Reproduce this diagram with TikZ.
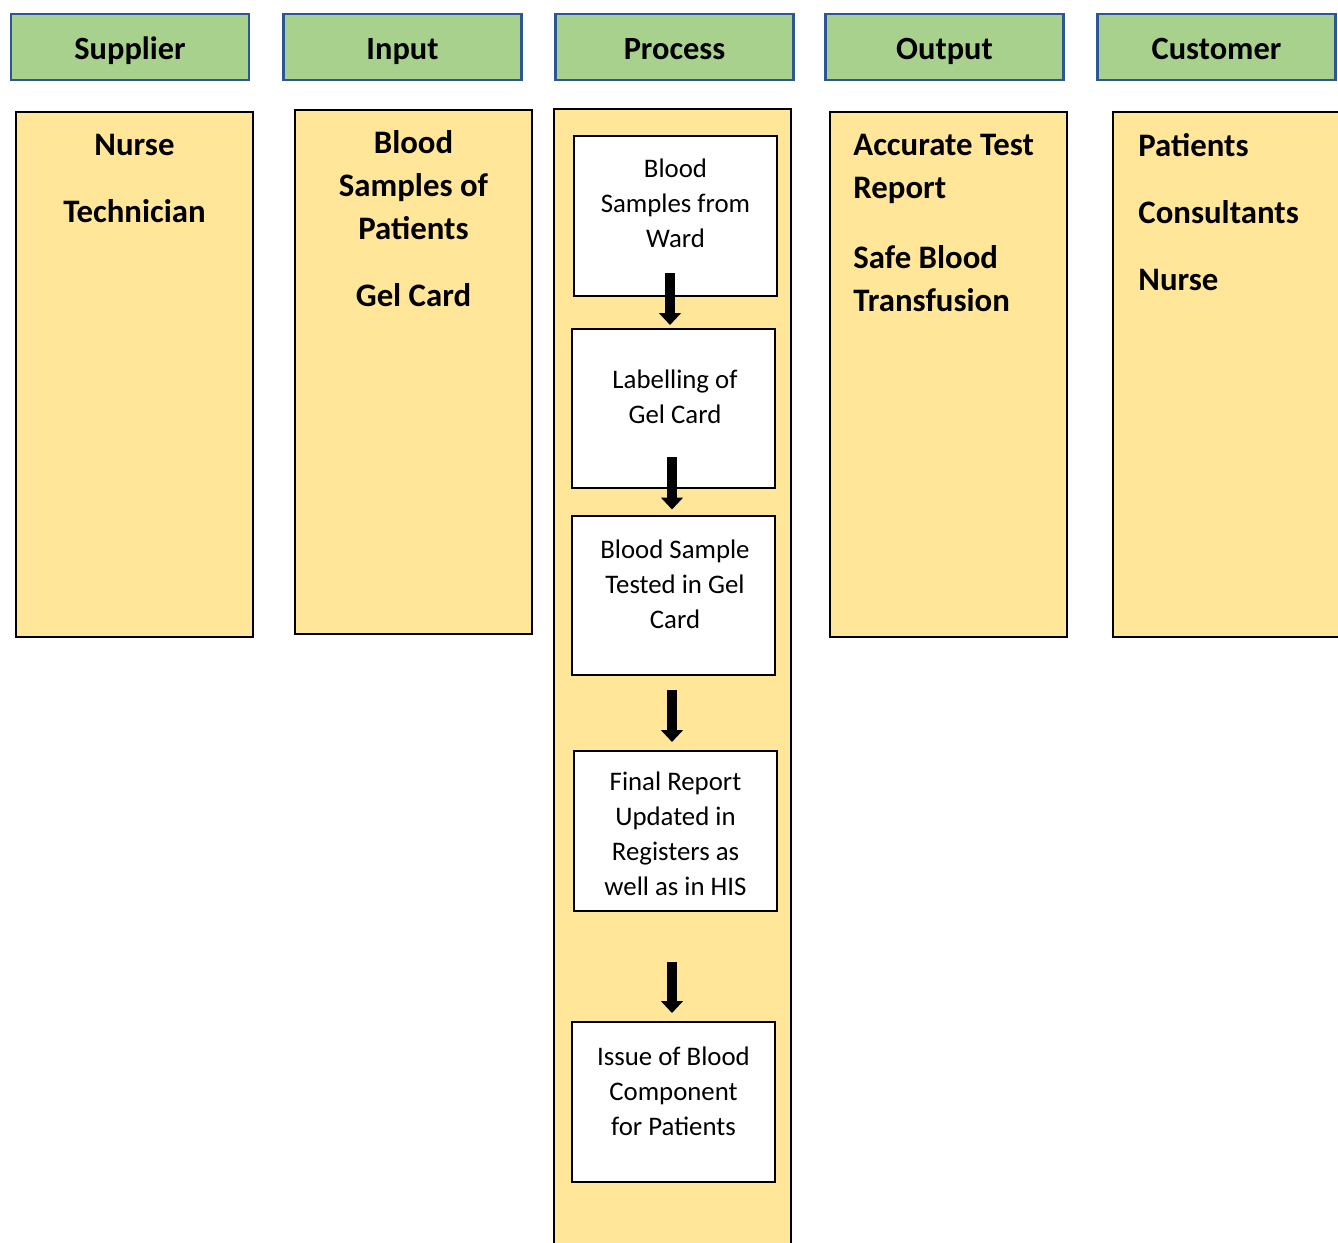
\documentclass[tikz,border=0pt]{standalone}
\usepackage{fontspec}
\setmainfont{Carlito}
\usetikzlibrary{arrows.meta,calc}
\definecolor{hdrgreen}{HTML}{A9D18E}
\definecolor{hdrblue}{HTML}{2F5597}
\definecolor{laneyellow}{HTML}{FFE699}

\begin{document}
\begin{tikzpicture}[x=0.5pt,y=0.5pt,
  header/.style={draw=hdrblue, line width=1.4pt, fill=hdrgreen,
    minimum width=119pt, minimum height=33pt, inner sep=0pt, outer sep=0pt,
    text height=12.4pt, text depth=0pt,
    font=\fontsize{16.2}{20}\selectfont\bfseries},
  lane/.style={draw=black, line width=1.2pt, fill=laneyellow,
    inner sep=0pt, outer sep=0pt, minimum width=118.5pt, minimum height=262.5pt},
  lanetext/.style={inner sep=0pt, font=\fontsize{16.4}{21.5}\selectfont\bfseries},
  stepbox/.style={draw=black, line width=0.7pt, fill=white,
    minimum width=101.5pt, minimum height=80pt, inner sep=0pt, outer sep=0pt},
  steptext/.style={anchor=north, inner sep=0pt, align=center,
    font=\fontsize{13.4}{17.5}\selectfont},
  flow/.style={line width=5.3pt, -{Triangle[width=10.8pt,length=6pt]}}
]
\useasboundingbox (0,0) rectangle (1338,-1242);

% column headers
\node[header] (hsup)  at (130,-47)    {Supplier};
\node[header] (hin)   at (402.5,-47)  {Input};
\node[header] (hproc) at (674.5,-47)  {Process};
\node[header] (hout)  at (944.5,-47)  {Output};
\node[header] (hcus)  at (1216.5,-47) {Customer};

% yellow lanes
\node[lane] (lsup)  at (134.5,-374.5) {};
\node[lane, minimum height=262pt] (lin) at (413.5,-372) {};
\node[lane, minimum height=570.5pt] (lproc) at (672.5,-679.5) {};
\node[lane] (lout)  at (948.5,-374.5) {};
\node[lane, minimum width=116pt] (lcus) at (1229,-374.5) {};

% lane contents
\node[lanetext, anchor=north, align=center] (tsup) at (134.5,-134)
  {Nurse\\[12pt]Technician};
\node[lanetext, anchor=north, align=center] (tin) at (413.5,-130)
  {Blood\\Samples of\\Patients\\[12pt]Gel Card};
\node[lanetext, anchor=north west, align=left] (tout) at (853,-134)
  {Accurate Test\\Report\\[13.5pt]Safe Blood\\Transfusion};
\node[lanetext, anchor=north west, align=left] (tcus) at (1138,-133)
  {Patients\\[12pt]Consultants\\[12pt]Nurse};

% process steps
\node[stepbox] (b1) at (675.5,-216)   {};
\node[stepbox, minimum height=79.5pt] (b2) at (673.5,-408.5) {};
\node[stepbox, minimum height=79.5pt] (b3) at (673.5,-595.5) {};
\node[stepbox] (b4) at (675.5,-831)   {};
\node[stepbox] (b5) at (673.5,-1102)  {};

\node[steptext] (s1) at ($(b1.north)+(0,-22)$) {Blood\\Samples from\\Ward};
\node[steptext] (s2) at ($(b2.north)+(1.5,-40)$) {Labelling of\\Gel Card};
\node[steptext] (s3) at ($(b3.north)+(1.5,-23)$) {Blood Sample\\Tested in Gel\\Card};
\node[steptext] (s4) at ($(b4.north)+(0,-20)$) {Final Report\\Updated in\\Registers as\\well as in HIS};
\node[steptext] (s5) at ($(b5.north)+(0,-24)$) {Issue of Blood\\Component\\for Patients};

% flow arrows
\draw[flow] ($(b1.south)+(-5.5,23)$) -- ($(b2.north)+(-3.5,4)$);
\draw[flow] ($(b2.south)+(-1.5,31)$) -- ($(b3.north)+(-1.5,6.5)$);
\draw[flow] ($(b3.south)+(-1.5,-15)$) -- ($(b4.north)+(-3.5,9)$);
\draw[flow] ($(b4.south)+(-3.5,-51)$) -- ($(b5.north)+(-1.5,9)$);
\end{tikzpicture}
\end{document}
